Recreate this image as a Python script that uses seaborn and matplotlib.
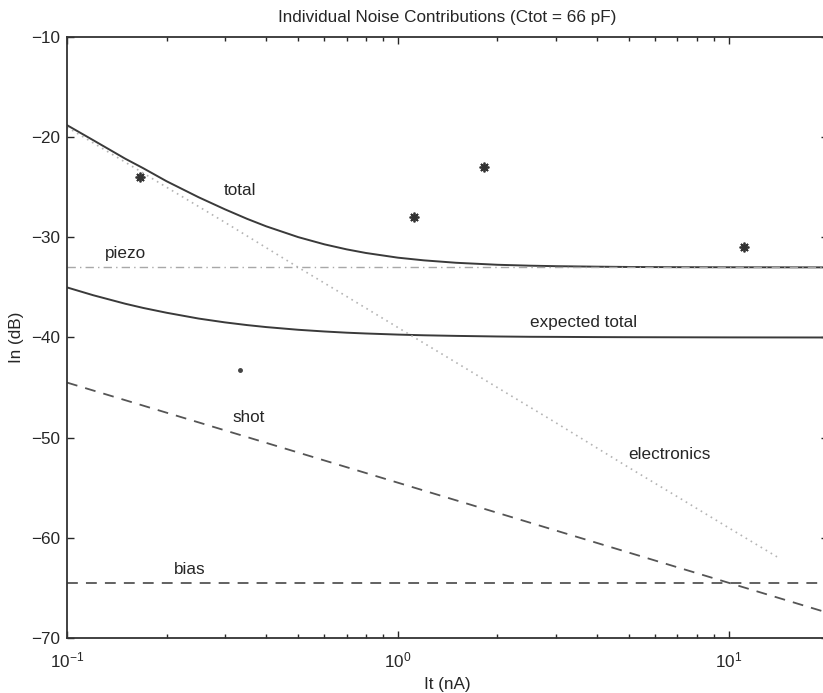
import matplotlib
matplotlib.use("Agg")
import matplotlib.pyplot as plt
import seaborn as sns

# Bias current grid (nA) and noise contributions (dB)
current_na = [0.1, 0.12, 0.15, 0.17, 0.2, 0.25, 0.3, 0.35, 0.4, 0.5, 0.6, 0.7,
              0.8, 1, 1.2, 1.5, 2, 2.5, 3, 4, 5, 7, 10, 20]
total_db = [-18.8, -20.3, -22.15, -23.1, -24.4, -26.0, -27.2, -28.15, -28.9,
            -29.98, -30.7, -31.2, -31.56, -32.03, -32.3, -32.54, -32.74,
            -32.83, -32.88, -32.93, -32.96, -32.98, -32.99, -33.0]
expected_total_db = [-35.0, -35.78, -36.63, -37.05, -37.53, -38.11, -38.49,
                     -38.76, -38.96, -39.23, -39.4, -39.52, -39.6, -39.71,
                     -39.78, -39.84, -39.9, -39.93, -39.94, -39.96, -39.97,
                     -39.98, -39.99, -40.0]
electronics_x = [0.1, 0.15, 0.2, 0.3, 0.5, 0.7, 1, 1.5, 2, 3, 5, 7, 10, 14]
electronics_db = [-19.0, -22.5, -25.0, -28.5, -33.0, -35.9, -39.0, -42.5,
                  -45.0, -48.5, -53.0, -55.9, -59.0, -61.9]
shot_x = [0.1, 20]
shot_db = [-44.5, -67.5]
flat_x = [0.1, 20]
piezo_db = [-33.0, -33.0]
bias_db = [-64.5, -64.5]

# Measured points
meas_x = [0.166, 1.116, 1.82, 11.1]
meas_db = [-24.0, -28.0, -23.0, -31.0]
dot_x = [0.334]
dot_db = [-43.2]

# Curve annotations: (text, x, y)
labels = [("total", 0.333, -25.3), ("piezo", 0.150, -31.6),
          ("expected total", 3.63, -38.5), ("shot", 0.355, -48.0),
          ("electronics", 6.6, -51.7), ("bias", 0.235, -63.2)]

sns.set_style("ticks")
plt.rcParams["font.family"] = ["Liberation Sans", "DejaVu Sans"]
plt.rcParams["mathtext.fontset"] = "custom"
plt.rcParams["mathtext.rm"] = "Liberation Sans"
plt.rcParams["mathtext.it"] = "Liberation Sans"
plt.rcParams["axes.unicode_minus"] = True

ink = "#262626"
fs = 12.3
fig = plt.figure(figsize=(8.23, 6.93), dpi=100)
ax = fig.add_axes([0.0814, 0.0794, 0.925, 0.8672])

sns.lineplot(x=current_na, y=total_db, ax=ax, color="#3a3a3a", lw=1.4)
sns.lineplot(x=current_na, y=expected_total_db, ax=ax, color="#3a3a3a", lw=1.4)
sns.lineplot(x=electronics_x, y=electronics_db, ax=ax, color="#b4b4b4",
             lw=1.2, linestyle=(0, (1, 2.5)))
sns.lineplot(x=flat_x, y=piezo_db, ax=ax, color="#a8a8a8", lw=1.0,
             linestyle=(0, (6, 3, 1, 3)))
sns.lineplot(x=shot_x, y=shot_db, ax=ax, color="#555555", lw=1.3,
             linestyle=(0, (6, 4.5)))
sns.lineplot(x=flat_x, y=bias_db, ax=ax, color="#555555", lw=1.3,
             linestyle=(0, (6, 4.5)))

ax.plot(meas_x, meas_db, linestyle="none", marker=(8, 2, 0), markersize=7,
        markeredgewidth=1.3, color="#333333")
ax.plot(dot_x, dot_db, linestyle="none", marker="o", markersize=2.5,
        color="#444444")

for text, tx, ty in labels:
    ax.text(tx, ty, text, fontsize=fs, color=ink, ha="center", va="center")

ax.set_xscale("log")
ax.set_xlim(0.1, 20)
ax.set_ylim(-70, -10)
ax.set_yticks([-70, -60, -50, -40, -30, -20, -10])
ax.set_xticks([0.1, 1, 10])
ax.set_xticklabels([r"$\mathregular{10^{-1}}$", r"$\mathregular{10^{0}}$",
                    r"$\mathregular{10^{1}}$"])
ax.tick_params(which="both", direction="in", top=True, right=True,
               colors=ink, labelsize=fs, width=1.0)
ax.tick_params(which="major", length=5, pad=5)
ax.tick_params(axis="x", which="major", pad=9)
ax.tick_params(which="minor", length=2.8)
ax.tick_params(axis="y", which="minor", left=False, right=False)
for sp in ax.spines.values():
    sp.set_color("#333333")
    sp.set_linewidth(1.3)

ax.set_xlabel("It (nA)", fontsize=fs, color=ink, labelpad=5)
ax.set_ylabel("In (dB)", fontsize=fs, color=ink, labelpad=5)
ax.set_title("Individual Noise Contributions (Ctot = 66 pF)", fontsize=fs,
             color=ink, pad=11)

fig.savefig("out.png", dpi=100)
